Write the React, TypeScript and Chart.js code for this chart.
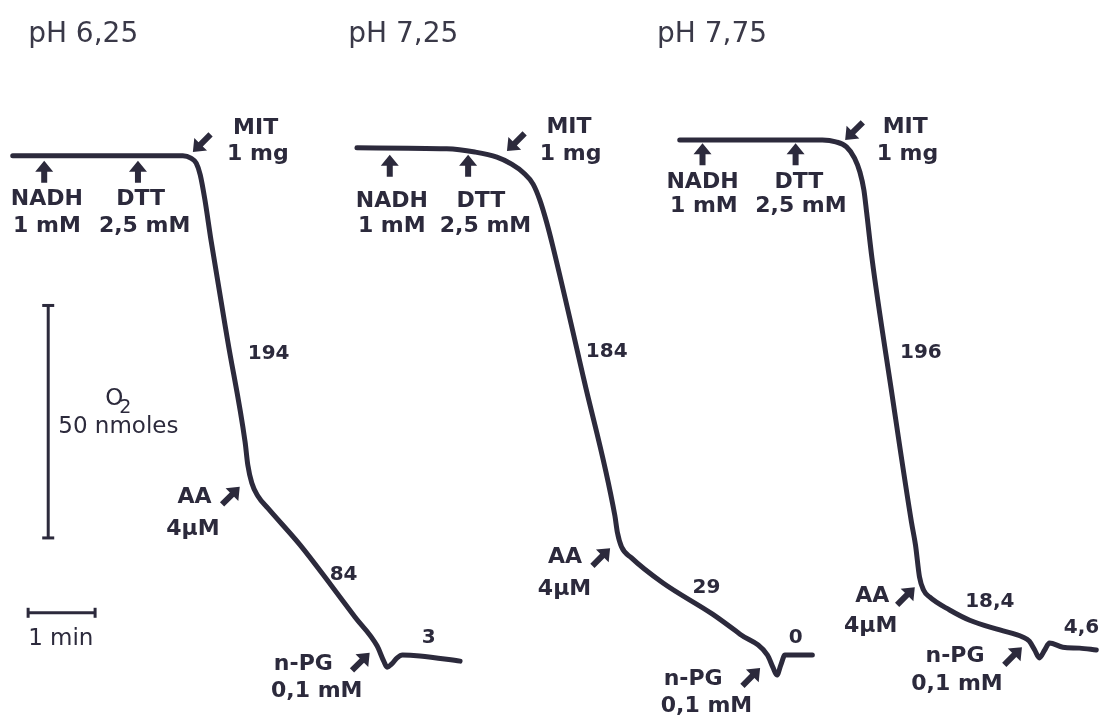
import React, { useEffect, useRef } from "react";
import { Chart, registerables } from "chart.js";
Chart.register(...registerables);

// ---- Data: time (min) vs O2 (nmol) traces read from the recordings ----
const trace1Time = [0.19, 2.73, 2.85, 2.93, 2.99, 3.06, 3.15, 3.40, 3.66, 3.70, 3.76, 3.85, 4.00, 4.48, 4.93, 5.30, 5.63, 5.73, 5.78, 5.85, 5.93, 6.01, 6.27, 6.87];
const trace1O2 = [120.5, 120.5, 120.0, 118.9, 116.4, 111.0, 102.4, 80.7, 58.9, 54.0, 50.1, 47.3, 44.7, 36.8, 28.4, 21.3, 15.1, 11.8, 10.5, 11.2, 12.5, 13.1, 12.9, 11.8];

const trace2Time = [5.33, 6.67, 7.09, 7.42, 7.64, 7.82, 7.96, 8.06, 8.16, 8.25, 8.72, 9.18, 9.22, 9.28, 9.43, 9.90, 10.64, 11.05, 11.46, 11.54, 11.60, 11.66, 11.72, 12.13];
const trace2O2 = [122.2, 122.0, 121.3, 120.2, 118.7, 116.8, 114.4, 111.0, 106.3, 101.3, 72.3, 43.2, 39.4, 36.4, 34.0, 28.6, 21.9, 17.6, 13.1, 10.5, 8.8, 11.0, 13.1, 13.1];

const trace3Time = [10.15, 12.28, 12.48, 12.64, 12.76, 12.84, 12.90, 12.94, 13.02, 13.31, 13.61, 13.67, 13.73, 13.79, 13.88, 14.18, 14.48, 14.93, 15.27, 15.37, 15.45, 15.52, 15.60, 15.67, 15.87, 16.12, 16.37];
const trace3O2 = [123.9, 123.9, 123.5, 122.4, 120.0, 117.0, 113.1, 108.4, 98.5, 70.1, 41.7, 36.8, 29.9, 27.1, 25.6, 22.8, 20.6, 18.5, 17.0, 16.1, 14.2, 12.5, 14.2, 15.7, 14.8, 14.6, 14.2];

// Scale bars: 50 nmol O2 and 1 min
const o2BarTime = [0.72, 0.72];
const o2BarO2 = [38.3, 88.3];
const minBarTime = [0.42, 1.42];
const minBarO2 = [22.2, 22.2];

// Titles
const titleTexts = ["pH 6,25", "pH 7,25", "pH 7,75"];
const titleTime = [0.42, 5.2, 9.81];
const titleO2 = [145.0, 145.0, 145.0];

// Rates (nmol O2 / min / mg)
const rateTexts = ["194", "84", "3", "184", "29", "0", "196", "18,4", "4,6"];
const rateTime = [3.70, 5.13, 6.40, 9.06, 10.55, 11.88, 13.75, 14.78, 16.15];
const rateO2 = [76.8, 29.3, 15.7, 77.2, 26.5, 15.7, 77.0, 23.4, 17.9];
const rateAlign = ["left", "center", "center", "center", "center", "center", "center", "center", "center"];

// Additions labels
const addTexts = [
  "MIT", "1 mg", "NADH", "1 mM", "DTT", "2,5 mM", "AA", "4µM", "n-PG", "0,1 mM",
  "MIT", "1 mg", "NADH", "1 mM", "DTT", "2,5 mM", "AA", "4µM", "n-PG", "0,1 mM",
  "MIT", "1 mg", "NADH", "1 mM", "DTT", "2,5 mM", "AA", "4µM", "n-PG", "0,1 mM",
];
const addTime = [
  3.48, 3.39, 0.70, 0.70, 2.10, 2.16, 3.16, 2.88, 4.97, 4.73,
  8.16, 8.06, 5.85, 5.85, 7.18, 7.25, 8.69, 8.43, 10.79, 10.55,
  13.18, 13.09, 10.49, 10.51, 11.93, 11.96, 13.28, 13.00, 14.70, 14.29,
];
const addO2 = [
  125.2, 119.6, 109.9, 104.1, 109.9, 104.1, 45.8, 38.9, 9.9, 4.1,
  125.4, 119.6, 109.5, 104.1, 109.5, 104.1, 32.9, 26.0, 6.7, 0.9,
  125.4, 119.6, 113.6, 108.4, 113.6, 108.4, 24.5, 18.1, 11.6, 5.6,
];
const addAlign = [
  "left", "left", "center", "center", "center", "center", "right", "center", "right", "center",
  "left", "left", "center", "center", "center", "center", "right", "center", "right", "center",
  "left", "left", "center", "center", "center", "center", "right", "center", "right", "center",
];

// Arrow tips: direction up (NADH, DTT), down-left (MIT), up-right (AA, n-PG)
const arrowTime = [0.66, 2.06, 2.88, 3.58, 5.52, 5.82, 6.99, 7.57, 9.11, 11.35, 10.49, 11.88, 12.62, 13.66, 15.26];
const arrowO2 = [119.4, 119.4, 121.3, 49.3, 13.6, 120.7, 120.7, 121.5, 36.1, 10.3, 123.2, 123.2, 123.9, 27.7, 14.8];
const arrowDir = ["up", "up", "dl", "ur", "ur", "up", "up", "dl", "ur", "ur", "up", "up", "dl", "ur", "ur"];

// Scale-bar labels
const scaleTexts = ["50 nmoles", "1 min"];
const scaleTime = [0.87, 0.42];
const scaleO2 = [60.9, 15.3];

const INK = "#2c2a3c";
const FONT = "'DejaVu Sans', Verdana, sans-serif";

const pts = (xs: number[], ys: number[]) => xs.map((x, i) => ({ x, y: ys[i] }));

const annotPlugin = {
  id: "annot",
  afterDatasetsDraw(chart: any) {
    const { ctx, scales } = chart;
    const X = (v: number) => scales.x.getPixelForValue(v);
    const Y = (v: number) => scales.y.getPixelForValue(v);
    ctx.save();
    ctx.fillStyle = INK;
    // arrows
    arrowDir.forEach((d, i) => {
      const px = X(arrowTime[i]);
      const py = Y(arrowO2[i]);
      const ang = d === "up" ? -Math.PI / 2 : d === "ur" ? -Math.PI / 4 : (3 * Math.PI) / 4;
      const L = d === "up" ? 22 : 25;
      const hl = 11, hw = 18, sw = 6;
      ctx.save();
      ctx.translate(px, py);
      ctx.rotate(ang);
      ctx.beginPath();
      ctx.moveTo(0, 0);
      ctx.lineTo(-hl, hw / 2);
      ctx.lineTo(-hl, sw / 2);
      ctx.lineTo(-L, sw / 2);
      ctx.lineTo(-L, -sw / 2);
      ctx.lineTo(-hl, -sw / 2);
      ctx.lineTo(-hl, -hw / 2);
      ctx.closePath();
      ctx.fill();
      ctx.restore();
    });
    ctx.textBaseline = "alphabetic";
    // titles
    ctx.fillStyle = "#3a3948";
    ctx.font = `28px ${FONT}`;
    ctx.textAlign = "left";
    titleTexts.forEach((t, i) => ctx.fillText(t, X(titleTime[i]), Y(titleO2[i])));
    // additions
    ctx.fillStyle = INK;
    ctx.font = `bold 22px ${FONT}`;
    addTexts.forEach((t, i) => {
      ctx.textAlign = addAlign[i] as CanvasTextAlign;
      ctx.fillText(t, X(addTime[i]), Y(addO2[i]));
    });
    // rates
    ctx.font = `bold 20px ${FONT}`;
    rateTexts.forEach((t, i) => {
      ctx.textAlign = rateAlign[i] as CanvasTextAlign;
      ctx.fillText(t, X(rateTime[i]), Y(rateO2[i]));
    });
    // scale labels
    ctx.font = `23px ${FONT}`;
    ctx.textAlign = "left";
    scaleTexts.forEach((t, i) => ctx.fillText(t, X(scaleTime[i]), Y(scaleO2[i])));
    // O2 with subscript
    const ox = X(1.57), oy = Y(66.9);
    ctx.fillText("O", ox, oy);
    const ow = ctx.measureText("O").width;
    ctx.font = `19px ${FONT}`;
    ctx.fillText("2", ox + ow - 4, oy + 8);
    ctx.restore();
  },
};

export default function App() {
  const ref = useRef<HTMLCanvasElement>(null);
  useEffect(() => {
    if (!ref.current) return;
    const traceDs = (xs: number[], ys: number[]) => ({
      data: pts(xs, ys),
      showLine: true,
      borderColor: INK,
      borderWidth: 5,
      pointRadius: 0,
      cubicInterpolationMode: "monotone" as const,
      borderJoinStyle: "round" as const,
      borderCapStyle: "round" as const,
      clip: false as any,
    });
    const chart = new Chart(ref.current, {
      type: "scatter",
      data: {
        datasets: [
          traceDs(trace1Time, trace1O2),
          traceDs(trace2Time, trace2O2),
          traceDs(trace3Time, trace3O2),
          {
            data: pts(o2BarTime, o2BarO2),
            showLine: true,
            borderColor: INK,
            backgroundColor: INK,
            borderWidth: 3,
            pointStyle: "line",
            pointRadius: 6,
            pointBorderWidth: 3,
            pointBorderColor: INK,
            rotation: 0,
            clip: false,
          } as any,
          {
            data: pts(minBarTime, minBarO2),
            showLine: true,
            borderColor: INK,
            backgroundColor: INK,
            borderWidth: 3,
            pointStyle: "line",
            pointRadius: 5,
            pointBorderWidth: 3,
            pointBorderColor: INK,
            rotation: 90,
            clip: false,
          } as any,
        ],
      },
      options: {
        animation: false,
        responsive: false,
        devicePixelRatio: 1,
        layout: { padding: 0, autoPadding: false },
        events: [],
        plugins: { legend: { display: false }, tooltip: { enabled: false } },
        scales: {
          x: { type: "linear", min: 0, max: 16.5, display: false },
          y: { type: "linear", min: 0, max: 154, display: false },
        },
      },
      plugins: [annotPlugin],
    });
    return () => chart.destroy();
  }, []);
  return (
    <div style={{ position: "absolute", left: 0, top: 0, width: 1105, height: 716, background: "#fff" }}>
      <canvas ref={ref} width={1105} height={716} style={{ display: "block" }} />
    </div>
  );
}
